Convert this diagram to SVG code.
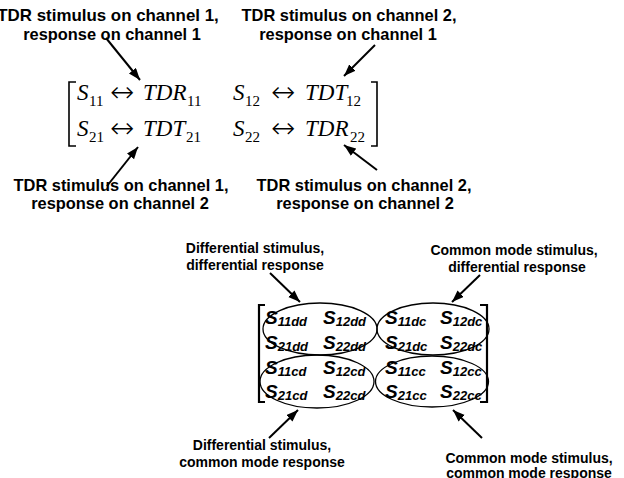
<svg xmlns="http://www.w3.org/2000/svg" width="624" height="478" viewBox="0 0 624 478">
<style>
.lbl{font-family:"Liberation Sans",Arial,sans-serif;font-weight:bold;fill:#000;text-anchor:middle}
.big{font-size:16.4px}
.sm{font-size:14px}
.m{font-family:"Liberation Serif","Times New Roman",serif;font-size:23px;fill:#000}
.mi{font-style:italic}
.ms{font-size:15px;font-style:normal}
.arr{font-family:"DejaVu Sans",sans-serif;font-size:29px;font-style:normal;font-weight:200}
.s{font-family:"Liberation Sans",Arial,sans-serif;font-weight:bold;font-style:italic;font-size:19px;fill:#000}
.sub{font-size:13px}
.br{fill:none;stroke:#000;stroke-width:1.6}
.br2{fill:none;stroke:#000;stroke-width:2.2}
.el{fill:none;stroke:#000;stroke-width:1.3}
.ar{fill:none;stroke:#000;stroke-width:2;marker-end:url(#ah)}
</style>
<defs>
<marker id="ah" markerUnits="userSpaceOnUse" markerWidth="13" markerHeight="10" refX="12" refY="4.5" orient="auto">
<path d="M0,0 L12,4.5 L0,9 z" fill="#000"/>
</marker>
</defs>
<rect width="624" height="478" fill="#fff"/>

<g id="matrix-top">
<path class="br" d="M76 82 H69 V146 H76"/>
<path class="br" d="M371 82 H377 V146 H371"/>
<text class="m" y="100"><tspan class="mi" x="77">S</tspan><tspan class="ms" x="89" dy="6">11</tspan><tspan class="arr" x="110" dy="-4">↔</tspan><tspan class="mi" x="143" dy="-2">TDR</tspan><tspan class="ms" x="187" dy="6">11</tspan><tspan class="mi" x="233" dy="-6">S</tspan><tspan class="ms" x="245" dy="6">12</tspan><tspan class="arr" x="271" dy="-4">↔</tspan><tspan class="mi" x="305" dy="-2">TDT</tspan><tspan class="ms" x="346" dy="6">12</tspan></text>
<text class="m" y="136"><tspan class="mi" x="77">S</tspan><tspan class="ms" x="89" dy="6">21</tspan><tspan class="arr" x="110" dy="-4">↔</tspan><tspan class="mi" x="143" dy="-2">TDT</tspan><tspan class="ms" x="186" dy="6">21</tspan><tspan class="mi" x="233" dy="-6">S</tspan><tspan class="ms" x="245" dy="6">22</tspan><tspan class="arr" x="271" dy="-4">↔</tspan><tspan class="mi" x="305" dy="-2">TDR</tspan><tspan class="ms" x="350" dy="6">22</tspan></text>
</g>

<g id="label-tdr11">
<text class="lbl big" x="108" y="21" style="font-size:16.9px">TDR stimulus on channel 1,</text>
<text class="lbl big" x="112" y="40">response on channel 1</text>
</g>
<g id="label-tdt12">
<text class="lbl big" x="349" y="21">TDR stimulus on channel 2,</text>
<text class="lbl big" x="348" y="40">response on channel 1</text>
</g>
<g id="label-tdt21">
<text class="lbl big" x="121" y="191">TDR stimulus on channel 1,</text>
<text class="lbl big" x="120" y="209">response on channel 2</text>
</g>
<g id="label-tdr22">
<text class="lbl big" x="364" y="191">TDR stimulus on channel 2,</text>
<text class="lbl big" x="365" y="209">response on channel 2</text>
</g>

<g id="matrix-bottom">
<path class="br2" d="M265 305 H259 V402 H265"/>
<path class="br2" d="M480 305 H487 V402 H480"/>
<text class="s" x="265" y="324">S<tspan class="sub" dy="2">11dd</tspan></text>
<text class="s" x="323" y="324">S<tspan class="sub" dy="2">12dd</tspan></text>
<text class="s" x="265" y="349">S<tspan class="sub" dy="2">21dd</tspan></text>
<text class="s" x="323" y="349">S<tspan class="sub" dy="2">22dd</tspan></text>
<text class="s" x="265" y="374">S<tspan class="sub" dy="2">11cd</tspan></text>
<text class="s" x="323" y="374">S<tspan class="sub" dy="2">12cd</tspan></text>
<text class="s" x="265" y="398">S<tspan class="sub" dy="2">21cd</tspan></text>
<text class="s" x="323" y="398">S<tspan class="sub" dy="2">22cd</tspan></text>
<text class="s" x="385" y="324">S<tspan class="sub" dy="2">11dc</tspan></text>
<text class="s" x="440" y="324">S<tspan class="sub" dy="2">12dc</tspan></text>
<text class="s" x="385" y="349">S<tspan class="sub" dy="2">21dc</tspan></text>
<text class="s" x="440" y="349">S<tspan class="sub" dy="2">22dc</tspan></text>
<text class="s" x="385" y="374">S<tspan class="sub" dy="2">11cc</tspan></text>
<text class="s" x="440" y="374">S<tspan class="sub" dy="2">12cc</tspan></text>
<text class="s" x="385" y="398">S<tspan class="sub" dy="2">21cc</tspan></text>
<text class="s" x="440" y="398">S<tspan class="sub" dy="2">22cc</tspan></text>
</g>
<g id="ellipse-dd"><ellipse class="el" cx="320" cy="329" rx="57" ry="26"/></g>
<g id="ellipse-cd"><ellipse class="el" cx="317" cy="381.5" rx="57" ry="26.5"/></g>
<g id="ellipse-dc"><ellipse class="el" cx="433" cy="329" rx="56" ry="26"/></g>
<g id="ellipse-cc"><ellipse class="el" cx="432" cy="381.5" rx="56.5" ry="25.5"/></g>

<g id="label-dd">
<text class="lbl sm" x="255" y="253">Differential stimulus,</text>
<text class="lbl sm" x="255" y="270">differential response</text>
</g>
<g id="label-dc">
<text class="lbl sm" x="514" y="255">Common mode stimulus,</text>
<text class="lbl sm" x="517" y="272">differential response</text>
</g>
<g id="label-cd">
<text class="lbl sm" x="262" y="450">Differential stimulus,</text>
<text class="lbl sm" x="262" y="467">common mode response</text>
</g>
<g id="label-cc">
<text class="lbl sm" x="529" y="463">Common mode stimulus,</text>
<text class="lbl sm" x="529" y="478">common mode response</text>
</g>

<g id="connectors">
<line class="ar" x1="106" y1="38" x2="140" y2="80"/>
<line class="ar" x1="375" y1="45" x2="344" y2="76"/>
<line class="ar" x1="107" y1="186" x2="138" y2="147"/>
<line class="ar" x1="377" y1="170" x2="344" y2="145"/>
<line class="ar" x1="270" y1="273" x2="300" y2="302"/>
<line class="ar" x1="480" y1="275" x2="452" y2="302"/>
<line class="ar" x1="269" y1="438" x2="298" y2="410"/>
<line class="ar" x1="482" y1="438" x2="453" y2="410"/>
</g>
</svg>
